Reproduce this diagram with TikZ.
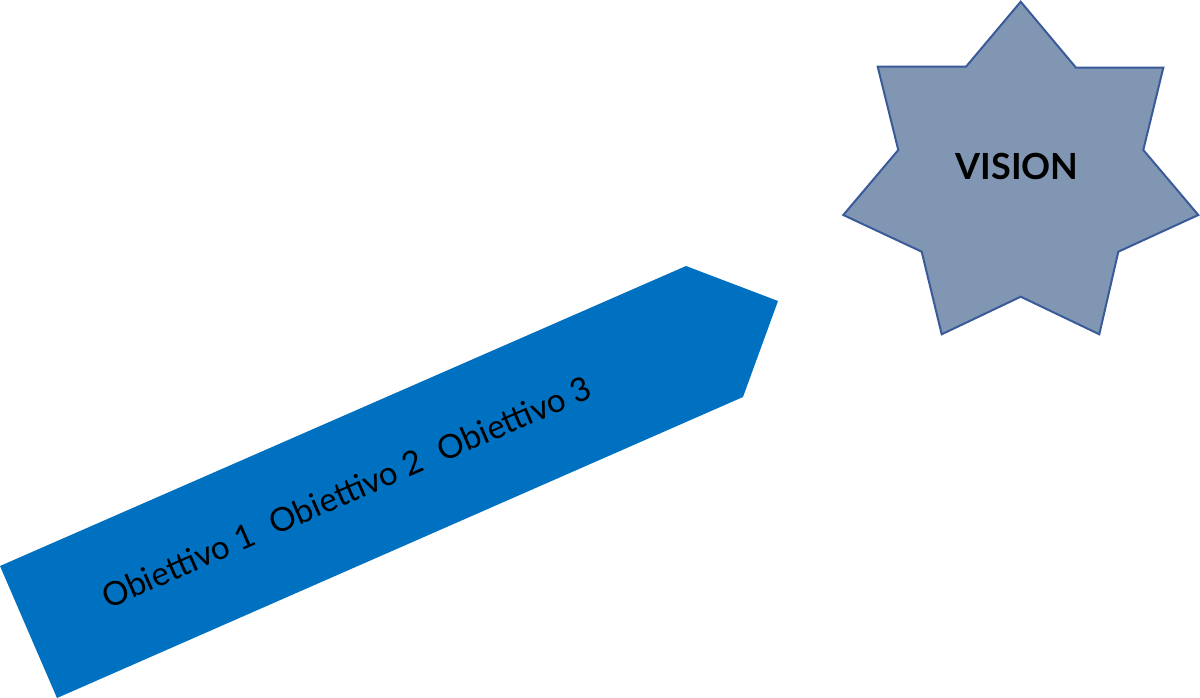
\documentclass[tikz,border=0pt]{standalone}
\usepackage{fontspec}
\setmainfont{Lato}
\definecolor{arrowblue}{HTML}{0070C0}
\definecolor{starfill}{HTML}{8096B2}
\definecolor{starline}{HTML}{3A5A9A}
\begin{document}
\begin{tikzpicture}[x=1pt,y=-1pt,
  arrowshape/.style={fill=arrowblue,draw=none},
  starshape/.style={fill=starfill,draw=starline,line width=2pt,line join=miter},
  lbl/.style={inner sep=0pt,text=black}]
\useasboundingbox (0,0) rectangle (1200,698);
% blue pentagon arrow
\path[arrowshape] (57,698) -- (0,566) -- (686,266) -- (778,301) -- (743,397) -- cycle;
\node[lbl,rotate=23.6,font=\fontsize{33}{40}\selectfont] (objs) at (346,492)
  {Obiettivo 1\hspace{0.6em}Obiettivo 2\hspace{0.6em}Obiettivo 3};
% seven-pointed star
\path[starshape] (1020.7,1.7) -- (1076,67.7) -- (1163.3,67.7) -- (1143.3,150)
  -- (1198.3,215) -- (1118.3,251.7) -- (1099.3,334.3) -- (1020.7,296.7)
  -- (941.7,334.3) -- (921.7,251.7) -- (843.3,215) -- (898.3,150)
  -- (877.7,66.7) -- (966,66.7) -- cycle;
\node[lbl,font=\fontsize{36}{42}\selectfont\fontseries{b}\selectfont] (vision) at (1017,166) {VISION};
\end{tikzpicture}
\end{document}
